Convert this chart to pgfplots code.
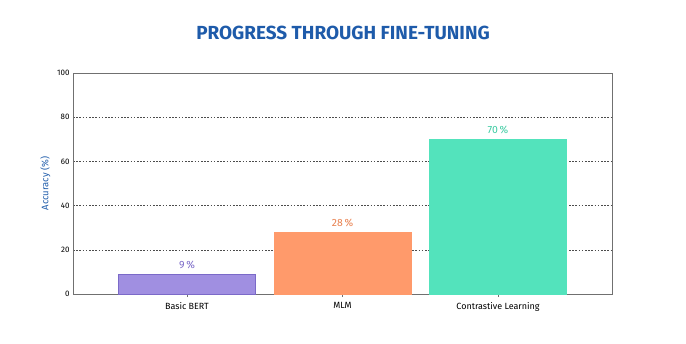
\documentclass[border=0pt]{standalone}
\usepackage{pgfplots}
\pgfplotsset{compat=1.18}
\usepackage{fontspec}
\setmainfont{Fira Sans}
\newfontfamily\titlefont{Fira Sans SemiBold}
\definecolor{titleblue}{HTML}{1E5BAA}
\definecolor{cpurple}{HTML}{A08FE1}
\definecolor{cpurpled}{HTML}{7B6AC8}
\definecolor{corange}{HTML}{FF9A6B}
\definecolor{coranged}{HTML}{E8804E}
\definecolor{cteal}{HTML}{53E3BC}
\definecolor{ctealt}{HTML}{3DCBA2}
\definecolor{axgray}{HTML}{707070}
\begin{document}
\begin{tikzpicture}[x=1bp,y=1bp]
\useasboundingbox (0,0) rectangle (686,343);
\node[font=\fontsize{19}{22}\selectfont\bfseries, text=titleblue] at (343,310) {PROGRESS THROUGH FINE-TUNING};
\begin{axis}[
  at={(73bp,49bp)}, anchor=south west,
  scale only axis, width=539bp, height=221bp,
  xmin=-0.733, xmax=2.733, ymin=0, ymax=100,
  ybar, bar width=0.88, bar shift=0pt,
  xtick={0,1,2}, xticklabels={Basic BERT, MLM, Contrastive Learning},
  ytick={0,20,40,60,80,100},
  ymajorgrids, major grid style={dash pattern=on 1.6bp off 1.6bp, black!70, line width=0.6pt},
  axis line style={axgray, line width=0.6pt},
  x tick style={axgray}, major tick length=3bp,
  y tick style={draw=none},
  xtick pos=bottom,
  ticklabel style={font=\fontsize{8}{9}\selectfont},
  xticklabel style={font=\fontsize{9}{10}\selectfont, yshift=-2bp},
  /pgf/number format/assume math mode=true,
  ylabel={Accuracy (\%)},
  every axis y label/.style={at={(ticklabel cs:0.5)}, rotate=90, anchor=south, font=\fontsize{9.5}{10}\selectfont, text=titleblue},
  nodes near coords={\pgfmathprintnumber{\pgfplotspointmeta}\,\%},
  every node near coord/.append style={font=\fontsize{10.5}{11}\selectfont, anchor=south, yshift=2bp},
  clip=false,
]
\addplot[fill=cpurple, draw=cpurpled, nodes near coords style={text=cpurpled}] coordinates {(0,9)};
\addplot[fill=corange, draw=corange, nodes near coords style={text=coranged}] coordinates {(1,28)};
\addplot[fill=cteal, draw=cteal, nodes near coords style={text=ctealt}] coordinates {(2,70)};
\end{axis}
\end{tikzpicture}
\end{document}
